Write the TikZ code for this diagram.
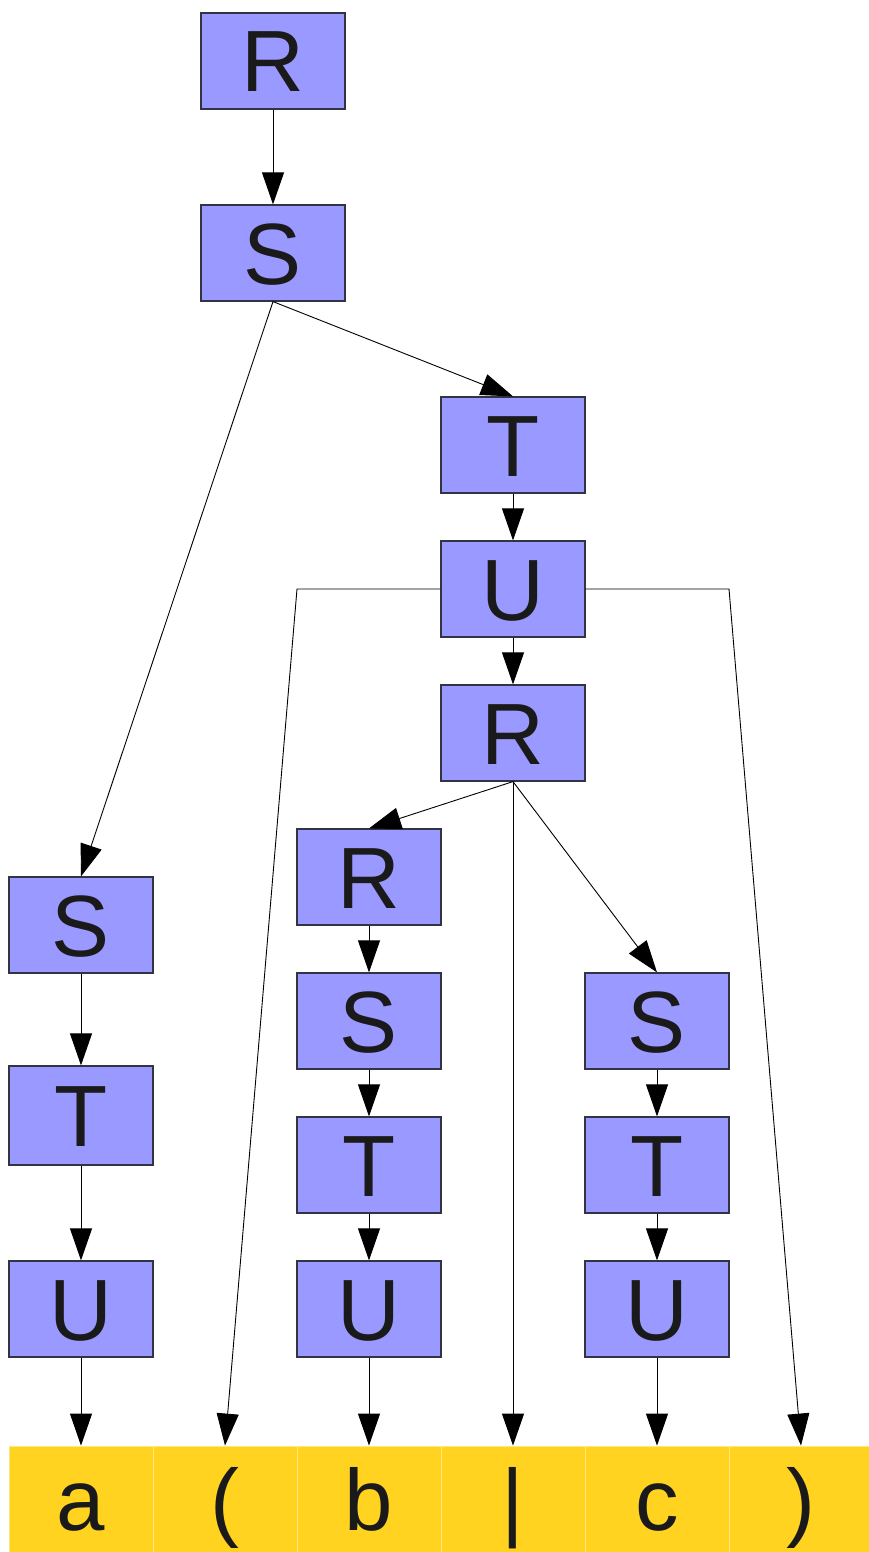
\documentclass[tikz,border=0pt]{standalone}
\usepackage{fontspec}
\setmainfont{Liberation Sans}
\usetikzlibrary{arrows.meta}
\definecolor{boxfill}{HTML}{9999FF}
\definecolor{boxline}{HTML}{333344}
\definecolor{cellfill}{HTML}{FFD320}
\definecolor{cellline}{HTML}{FFE680}
\definecolor{txt}{HTML}{1A1A1A}
\tikzset{
  sym/.style={rectangle, fill=boxfill, draw=boxline, line width=1.2pt,
    minimum width=144pt, minimum height=96pt, inner sep=0pt,
    text height=62pt, text depth=0pt, text=txt,
    font=\fontsize{87}{87}\selectfont},
  cell/.style={rectangle, fill=cellfill, draw=cellline, line width=0.8pt,
    minimum width=144pt, minimum height=106pt, inner sep=0pt,
    text height=62pt, text depth=0pt, text=txt,
    font=\fontsize{87}{87}\selectfont},
  conn/.style={draw=black, line width=0.9pt,
    -{Triangle[length=32pt,width=22pt]}},
}
\begin{document}
\begin{tikzpicture}[x=1pt,y=-1pt]
\useasboundingbox (0,0) rectangle (869,1552);
% bottom cells
\node[cell] (ca) at (81,1499) {a};
\node[cell] (cl) at (225,1499) {(};
\node[cell] (cb) at (369,1499) {b};
\node[cell] (cv) at (513,1499) {|};
\node[cell] (cc) at (657,1499) {c};
\node[cell] (cr) at (801,1499) {)};
% tree nodes
\node[sym] (R1) at (273,61) {R};
\node[sym] (S1) at (273,253) {S};
\node[sym] (T1) at (513,445) {T};
\node[sym] (U1) at (513,589) {U};
\node[sym] (R2) at (513,733) {R};
\node[sym] (R3) at (369,877) {R};
\node[sym] (S3) at (369,1021) {S};
\node[sym] (T3) at (369,1165) {T};
\node[sym] (U3) at (369,1309) {U};
\node[sym] (S4) at (657,1021) {S};
\node[sym] (T4) at (657,1165) {T};
\node[sym] (U4) at (657,1309) {U};
\node[sym] (S2) at (81,925) {S};
\node[sym, minimum height=99pt] (T2) at (81,1115.5) {T};
\node[sym] (U2) at (81,1309) {U};
% bend points
\coordinate (ul) at (297,589);
\coordinate (ur) at (729,589);
% connectors
\draw[conn] (R1.south) -- (S1.north);
\draw[conn] (S1.south) -- (T1.north);
\draw[conn] (S1.south) -- (S2.north);
\draw[conn] (T1.south) -- (U1.north);
\draw[conn] (U1.south) -- (R2.north);
\draw[conn] (U1.west) -- (ul) -- (cl.north);
\draw[conn] (U1.east) -- (ur) -- (cr.north);
\draw[conn] (R2.south) -- (R3.north);
\draw[conn] (R2.south) -- (cv.north);
\draw[conn] (R2.south) -- (S4.north);
\draw[conn] (R3.south) -- (S3.north);
\draw[conn] (S3.south) -- (T3.north);
\draw[conn] (T3.south) -- (U3.north);
\draw[conn] (U3.south) -- (cb.north);
\draw[conn] (S4.south) -- (T4.north);
\draw[conn] (T4.south) -- (U4.north);
\draw[conn] (U4.south) -- (cc.north);
\draw[conn] (S2.south) -- (T2.north);
\draw[conn] (T2.south) -- (U2.north);
\draw[conn] (U2.south) -- (ca.north);
\end{tikzpicture}
\end{document}
